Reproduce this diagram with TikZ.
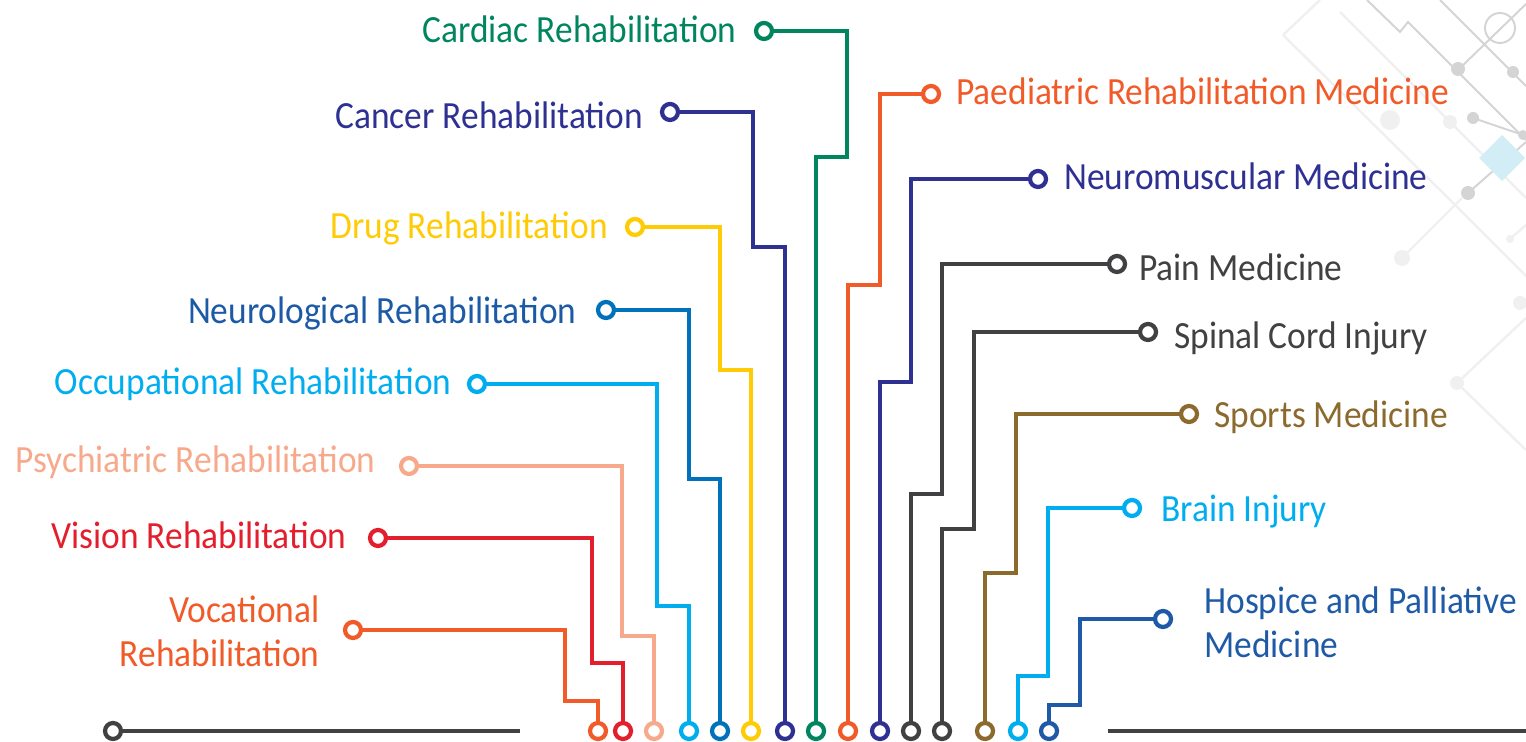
\documentclass[tikz,border=0pt]{standalone}
\usepackage{fontspec}
\setmainfont{Carlito}[FakeStretch=0.92]
\usepackage{tikz}
\definecolor{cOrange}{HTML}{F15A29}
\definecolor{cRed}{HTML}{E31E2D}
\definecolor{cSalmon}{HTML}{F7A98B}
\definecolor{cCyan}{HTML}{00AEEF}
\definecolor{cBlue}{HTML}{0072BC}
\definecolor{cBlueText}{HTML}{1C5AA6}
\definecolor{cYellow}{HTML}{FFCB05}
\definecolor{cIndigo}{HTML}{2E3192}
\definecolor{cGreen}{HTML}{00855F}
\definecolor{cGrey}{HTML}{414042}
\definecolor{cBrown}{HTML}{8C6A2E}
\definecolor{cNavy}{HTML}{1F5AA6}
\definecolor{cDiamond}{HTML}{D3EDF6}
\tikzset{ring/.style = {circle,draw,fill=white,line width=2.4pt,minimum size=3.2mm,inner sep=0pt},
         wire/.style = {line width=2.3pt},
         lbl/.style = {inner sep=0pt,font=\fontsize{21.9}{25}\selectfont},
         deco/.style = {draw=black!17,line width=1.1pt},
         faint/.style = {draw=black!6,line width=1.4pt}}

\begin{document}
\begin{tikzpicture}[x=0.02cm,y=-0.02cm]
    \useasboundingbox (0,0) rectangle (1526,742);
    % circuit pattern, top right
    \draw[faint] (1283,35) -- (1320,0);
    \draw[faint] (1283,35) -- (1440,190) -- (1526,276);
    \draw[faint] (1340,12) -- (1450,122) -- (1526,198);
    \draw[faint] (1402,258) -- (1462,198);
    \draw[faint] (1457,383) -- (1526,318);
    \draw[faint] (1457,383) -- (1526,450);
    \draw[faint] (1510,239) -- (1526,225);
    \fill[black!6] (1390,120) circle (10) (1450,122) circle (7) (1402,258) circle (8)
                   (1520,303) circle (7) (1457,383) circle (7) (1510,239) circle (4);
    \draw[deco] (1367,0) -- (1400,32) -- (1408,22) -- (1526,140);
    \draw[deco] (1440,0) -- (1526,86);
    \draw[deco] (1526,4) -- (1458,70);
    \draw[deco] (1500,28) circle (15);
    \draw[deco] (1473,118) -- (1523,135);
    \draw[deco] (1468,193) -- (1526,142);
    \fill[black!17] (1458,69) circle (7) (1513,72) circle (6) (1473,118) circle (6)
                    (1523,135) circle (5) (1468,193) circle (7);
    \fill[cDiamond] (1502,135) -- (1525,158) -- (1502,181) -- (1479,158) -- cycle;

    % left group
    \foreach \i/\x/\y/\c/\tc/\xa/\ya/\xb/\lx/\ly/\t in {
        2/378/538/cRed/cRed/592/663/623/347/549/Vision Rehabilitation,
        3/409/466/cSalmon/cSalmon/622/636/654/376/473/Psychiatric Rehabilitation,
        4/477/384/cCyan/cCyan/657/606/689/452/395/Occupational Rehabilitation,
        5/606/310/cBlue/cBlueText/689/479/720/577/324/Neurological Rehabilitation,
        6/635/227/cYellow/cYellow/720/370/751/608/239/Drug Rehabilitation,
        7/670/112/cIndigo/cIndigo/753/247/785/643/129/Cancer Rehabilitation,
        8/764/31/cGreen/cGreen/847/157/816/737/43/Cardiac Rehabilitation}{
        \node[ring,draw=\c] (t\i) at (\x,\y) {};
        \node[ring,draw=\c] (b\i) at (\xb,731) {};
        \node[lbl,text=\tc,anchor=base east] (l\i) at (\lx,\ly) {\t};
        \draw[wire,\c] (t\i) -| (\xa,\ya) -| (b\i);}
    \node[ring,draw=cOrange] (t1) at (353,630) {};
    \node[ring,draw=cOrange] (b1) at (598,731) {};
    \node[lbl,text=cOrange,anchor=east,align=right] (l1) at (320,631) {Vocational\\Rehabilitation};
    \draw[wire,cOrange] (t1) -| (565,701) -| (b1);

    % right group
    \foreach \i/\x/\y/\c/\xa/\ya/\xb/\lx/\ly/\t in {
        9/931/94/cOrange/880/285/848/956/105/Paediatric Rehabilitation Medicine,
        10/1038/179/cIndigo/911/382/880/1064/190/Neuromuscular Medicine,
        11/1117/264/cGrey/942/494/911/1139/281/Pain Medicine,
        12/1148/332/cGrey/974/529/942/1174/349/Spinal Cord Injury,
        13/1189/414/cBrown/1016/573/985/1214/428/Sports Medicine,
        14/1132/508/cCyan/1048/676/1018/1161/522/Brain Injury}{
        \node[ring,draw=\c] (t\i) at (\x,\y) {};
        \node[ring,draw=\c] (b\i) at (\xb,731) {};
        \node[lbl,text=\c,anchor=base west] (l\i) at (\lx,\ly) {\t};
        \draw[wire,\c] (t\i) -| (\xa,\ya) -| (b\i);}
    \node[ring,draw=cNavy] (t15) at (1163,619) {};
    \node[ring,draw=cNavy] (b15) at (1049,731) {};
    \node[lbl,text=cNavy,anchor=west,align=left] (l15) at (1204,622) {Hospice and Palliative\\Medicine};
    \draw[wire,cNavy] (t15) -| (1080,705) -| (b15);

    % base line
    \node[ring,draw=cGrey] (s0) at (113,731) {};
    \coordinate (s1) at (520,731);
    \coordinate (r0) at (1108,731);
    \coordinate (r1) at (1526,731);
    \draw[line width=2.5pt,cGrey] (s0) -- (s1);
    \draw[line width=2.5pt,cGrey] (r0) -- (r1);
\end{tikzpicture}
\end{document}
